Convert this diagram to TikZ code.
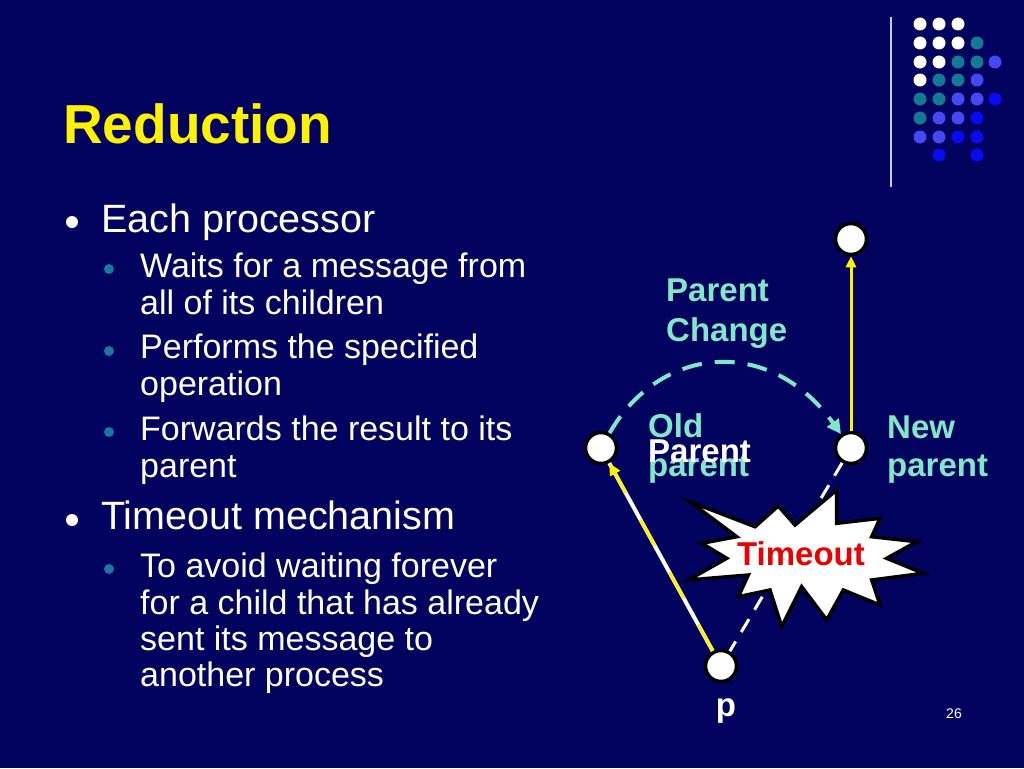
\documentclass[tikz,border=0pt]{standalone}
\usepackage{fontspec}
\setmainfont{Liberation Sans}
\usetikzlibrary{arrows.meta}
\definecolor{bg}{RGB}{1,3,94}
\definecolor{aqua}{RGB}{128,232,200}
\definecolor{teal1}{RGB}{19,122,150}
\definecolor{blue1}{RGB}{71,71,245}
\definecolor{blue2}{RGB}{10,10,240}
\definecolor{bultc}{RGB}{26,120,160}
\definecolor{vline}{RGB}{200,200,240}
\definecolor{tred}{RGB}{235,0,0}
\begin{document}
\begin{tikzpicture}[x=1pt,y=-1pt,
  maintxt/.style={anchor=base west, inner sep=0pt, text=white, font=\fontsize{39.5}{47}\selectfont},
  subtxt/.style={anchor=base west, inner sep=0pt, text=white, font=\fontsize{34}{40}\selectfont},
  lbl/.style={anchor=base west, inner sep=0pt, text=aqua, font=\bfseries\fontsize{33}{38}\selectfont},
  vtx/.style={circle, fill=white, draw=black, line width=3.5pt, minimum size=31pt, inner sep=0pt},
  mainbul/.style={circle, fill=white, minimum size=12pt, inner sep=0pt},
  subbul/.style={circle, fill=bultc, minimum size=10pt, inner sep=0pt},
  gdot/.style={circle, minimum size=13pt, inner sep=0pt}
]
\fill[bg] (0,0) rectangle (1024,768);
\useasboundingbox (0,0) rectangle (1024,768);

% title
\node[anchor=base west, inner sep=0pt, text=yellow, font=\bfseries\fontsize{55}{66}\selectfont] (title) at (63,143) {Reduction};

% decoration: vertical line and dot grid
\draw[vline, line width=2pt] (891,17) -- (891,187);
\foreach \cx/\cy/\cc [count=\i] in {
  920/24/white, 939/24/white, 958/24/white,
  920/43/white, 939/43/white, 958/43/white, 977/43/teal1,
  920/62/white, 939/62/white, 958/62/teal1, 977/62/teal1, 995/62/blue1,
  920/80/white, 939/80/teal1, 958/80/teal1, 977/80/blue1,
  920/99/teal1, 939/99/teal1, 958/99/blue1, 977/99/blue1, 995/99/blue2,
  920/118/teal1, 939/118/blue1, 958/118/blue1, 977/118/blue2,
  920/137/blue1, 939/137/blue1, 958/137/blue2, 977/137/blue2,
  939/155/blue2, 977/155/blue2}
  \node[gdot, fill=\cc] (g\i) at (\cx,\cy) {};

% bullets
\node[mainbul] (b1) at (72,222) {};
\node[maintxt] (t1) at (101,232) {Each processor};
\node[subbul] (b11) at (109,269) {};
\node[subtxt] (t11a) at (140,277) {Waits for a message from};
\node[subtxt] (t11b) at (140,314) {all of its children};
\node[subbul] (b12) at (109,351) {};
\node[subtxt] (t12a) at (140,358) {Performs the specified};
\node[subtxt] (t12b) at (140,395) {operation};
\node[subbul] (b13) at (109,432) {};
\node[subtxt] (t13a) at (140,440) {Forwards the result to its};
\node[subtxt] (t13b) at (140,477) {parent};
\node[mainbul] (b2) at (72,520) {};
\node[maintxt] (t2) at (101,529) {Timeout mechanism};
\node[subbul] (b21) at (109,569) {};
\node[subtxt] (t21a) at (140,577) {To avoid waiting forever};
\node[subtxt] (t21b) at (140,614) {for a child that has already};
\node[subtxt] (t21c) at (140,650) {sent its message to};
\node[subtxt] (t21d) at (140,686) {another process};

% diagram vertices
\node[vtx] (top) at (851,239) {};
\node[vtx] (new) at (851,448) {};
\node[vtx] (old) at (601,448) {};
\node[vtx] (p) at (721,666) {};

% connectors
\draw[yellow, line width=3pt, -{Triangle[length=11pt,width=10pt]}] (new) -- (top);
\draw[aqua, line width=4pt, dash pattern=on 20pt off 13pt, -{Triangle[length=14pt,width=14pt]}]
  (old) .. controls (660,345) and (770,335) .. (new);
\draw[white, line width=3pt, dash pattern=on 15pt off 11pt] (new) -- (p);
\draw[white, line width=4pt] (p) -- (old);
\draw[yellow, line width=3pt, dash pattern=on 30pt off 30pt, -{Triangle[length=12pt,width=11pt]}] (p) -- (old);

% labels
\node[lbl] (pc1) at (666,301) {Parent};
\node[lbl] (pc2) at (666,341) {Change};
\node[lbl] (old1) at (648,437) {Old};
\node[lbl] (old2) at (648,476) {parent};
\node[lbl, text=white] (oldP) at (648,462) {Parent};
\node[lbl] (new1) at (887,438) {New};
\node[lbl] (new2) at (887,476) {parent};
\node[anchor=base, inner sep=0pt, text=white, font=\bfseries\fontsize{33}{38}\selectfont] (plbl) at (726,716) {p};

% starburst
\filldraw[fill=white, draw=black, line width=3.5pt, line join=miter]
  (690,501.7) -- (755,526.7) -- (778.3,506) -- (795,525) -- (836.7,490) -- (836.7,523.3)
  -- (880,518.3) -- (871.7,536.7) -- (916.7,541.7) -- (886.7,558.3) -- (923.3,573.3)
  -- (871.7,580) -- (880,605) -- (843.3,590) -- (826.7,620) -- (801.7,586.7)
  -- (781.7,626.7) -- (770,590) -- (738.3,596.7) -- (748.3,575) -- (688.3,580)
  -- (726.7,558.3) -- (701.7,543.3) -- (736.7,536.7) -- cycle;
\node[anchor=base, inner sep=0pt, text=tred, font=\bfseries\fontsize{33}{38}\selectfont] (tmo) at (801,565) {Timeout};

% slide number
\node[anchor=base, inner sep=0pt, text=white, font=\fontsize{14}{16}\selectfont] (num) at (954,718) {26};
\end{tikzpicture}
\end{document}
